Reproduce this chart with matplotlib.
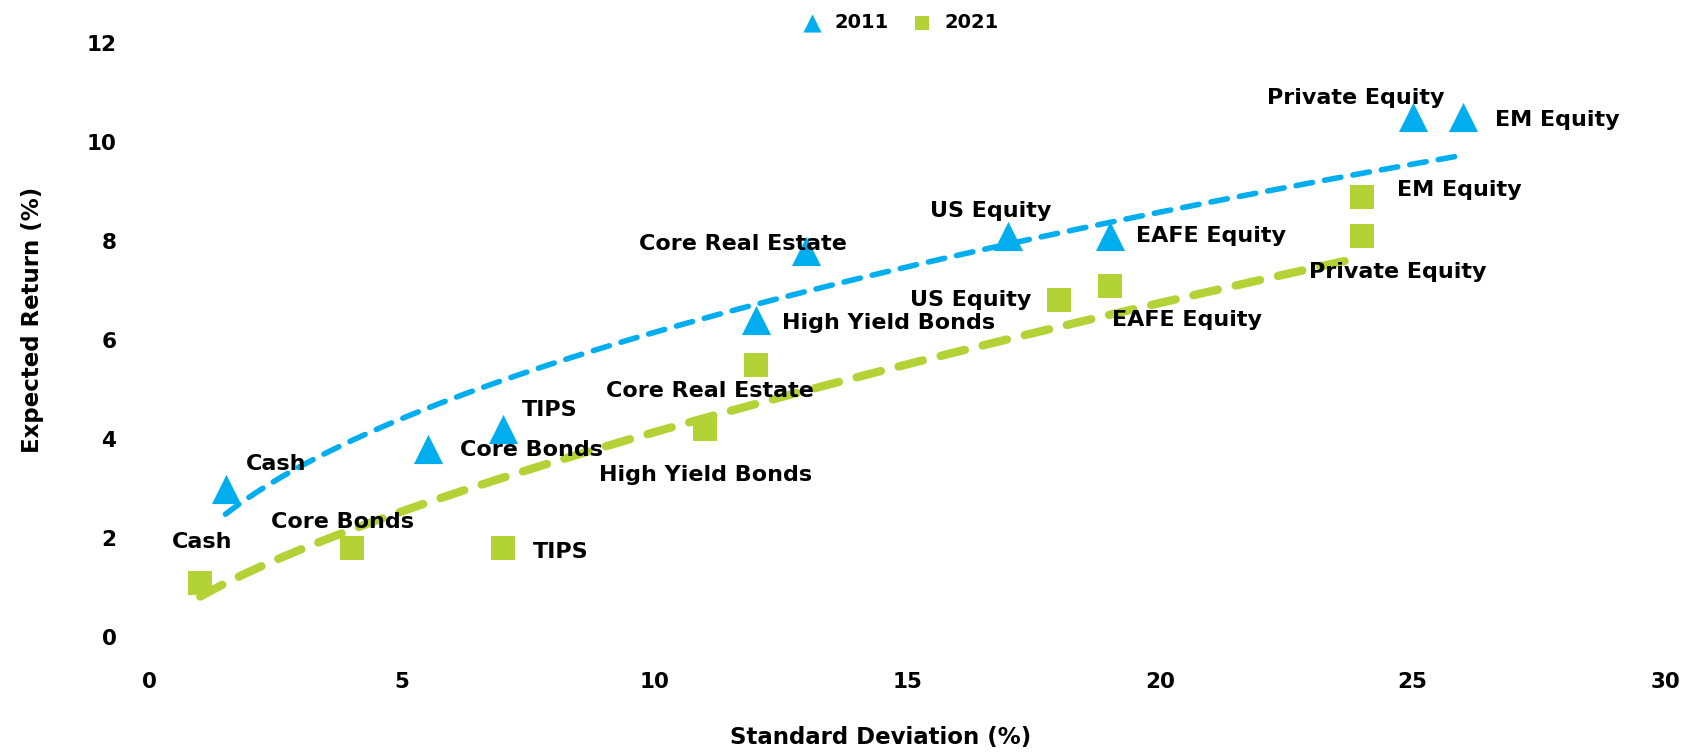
import matplotlib
matplotlib.use("Agg")

import numpy as np
import matplotlib.pyplot as plt

# asset classes (same order for both years)
assets = ["Cash", "Core Bonds", "TIPS", "High Yield Bonds", "Core Real Estate",
          "US Equity", "EAFE Equity", "Private Equity", "EM Equity"]

# standard deviation (%) and expected return (%)
std_2011 = [1.5, 5.5, 7, 12, 13, 17, 19, 25, 26]
ret_2011 = [3.0, 3.8, 4.2, 6.4, 7.8, 8.1, 8.1, 10.5, 10.5]

std_2021 = [1, 4, 7, 11, 12, 18, 19, 24, 24]
ret_2021 = [1.1, 1.8, 1.8, 4.2, 5.5, 6.8, 7.1, 8.1, 8.9]

x_ticks = [0, 5, 10, 15, 20, 25, 30]
y_ticks = [0, 2, 4, 6, 8, 10, 12]

blue = "#00AEEF"
green = "#B2D235"

# label placement: (dx, dy) in points, horizontal alignment
lab_2011 = [(15, 18, "left"), (23, -1, "left"), (13, 14, "left"), (19, -2, "left"),
            (-46, 5, "center"), (-13, 18, "center"), (19, 0, "left"),
            (-41, 14, "center"), (23, -2, "left")]
lab_2021 = [(1, 29, "center"), (-7, 19, "center"), (21, -3, "left"), (0, -33, "center"),
            (-33, -19, "center"), (-20, 0, "right"), (2, -25, "left"),
            (26, -26, "center"), (25, 5, "left")]

plt.rcParams["font.family"] = ["DejaVu Sans"]
plt.rcParams["font.weight"] = "bold"

fig = plt.figure(figsize=(16.9, 7.52), dpi=100)
ax = fig.add_axes([0.0886, 0.1529, 0.8967, 0.7898])


def power_fit(xs, ys):
    # excel style power trendline: fit in log-log space
    b, a = np.polyfit(np.log(xs), np.log(ys), 1)
    xx = np.linspace(min(xs), max(xs), 200)
    return xx, np.exp(a) * xx ** b


xx, yy = power_fit(std_2011, ret_2011)
ax.plot(xx, yy, color=blue, lw=4, ls=(0, (3, 2.2)), dash_capstyle="round", zorder=2)
xx, yy = power_fit(std_2021, ret_2021)
ax.plot(xx, yy, color=green, lw=6, ls=(0, (3, 2.2)), dash_capstyle="round", zorder=2)

ax.scatter(std_2011, ret_2011, marker="^", s=21 ** 2, color=blue, lw=0,
           label="2011", zorder=3, clip_on=False)
ax.scatter(std_2021, ret_2021, marker="s", s=17 ** 2, color=green, lw=0,
           label="2021", zorder=3, clip_on=False)

for name, x, y, (dx, dy, ha) in zip(assets, std_2011, ret_2011, lab_2011):
    ax.annotate(name, (x, y), xytext=(dx, dy), textcoords="offset points",
                ha=ha, va="center", fontsize=16, fontweight="bold", zorder=4)
for name, x, y, (dx, dy, ha) in zip(assets, std_2021, ret_2021, lab_2021):
    ax.annotate(name, (x, y), xytext=(dx, dy), textcoords="offset points",
                ha=ha, va="center", fontsize=16, fontweight="bold", zorder=4)

ax.set_xlim(0, 30)
ax.set_ylim(0, 12)
ax.set_xticks(x_ticks)
ax.set_yticks(y_ticks)
ax.tick_params(length=0, labelsize=15.5)
ax.tick_params(axis="x", pad=25)
ax.tick_params(axis="y", pad=24)
for s in ax.spines.values():
    s.set_visible(False)

ax.set_xlabel("Standard Deviation (%)", fontsize=16.5, fontweight="bold")
ax.set_ylabel("Expected Return (%)", fontsize=16.5, fontweight="bold")
ax.xaxis.set_label_coords(0.482, -0.150)
ax.yaxis.set_label_coords(-0.070, 0.534)

fig.legend(loc="upper center", bbox_to_anchor=(0.530, 1.006), ncol=2, frameon=False,
           markerscale=0.62, handletextpad=0.15, columnspacing=0.7,
           prop={"weight": "bold", "size": 14})

fig.savefig("out.png", dpi=100)
